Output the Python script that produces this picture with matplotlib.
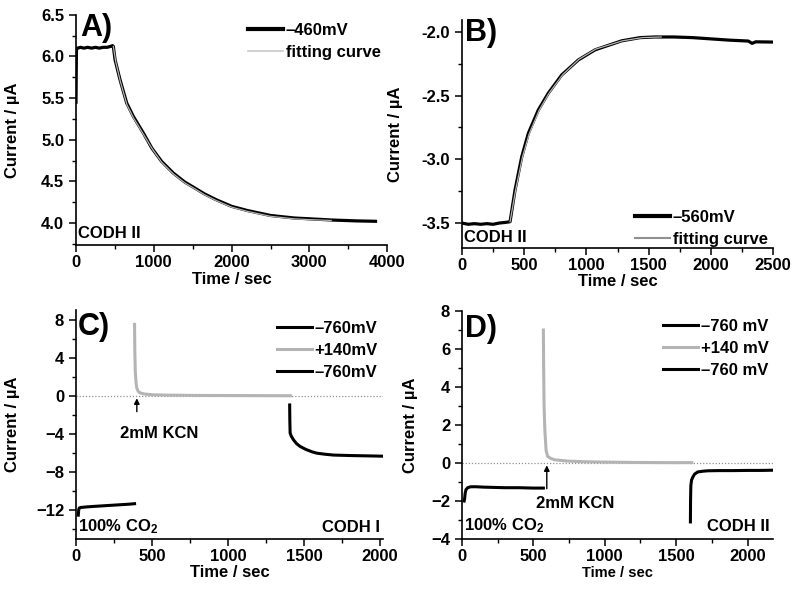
import matplotlib
matplotlib.use("Agg")
import matplotlib.pyplot as plt
from matplotlib.ticker import MultipleLocator, FormatStrFormatter

plt.rcParams['font.family'] = ['Liberation Sans', 'DejaVu Sans']
plt.rcParams['font.weight'] = 'bold'
plt.rcParams['axes.labelweight'] = 'bold'
plt.rcParams['mathtext.fontset'] = 'custom'
plt.rcParams['mathtext.rm'] = 'Liberation Sans:bold'
plt.rcParams['mathtext.it'] = 'Liberation Sans:bold'
plt.rcParams['mathtext.bf'] = 'Liberation Sans:bold'

### data
# A) CODH II, -460 mV
t_a = [0, 3, 6, 10, 20, 60, 100, 150, 200, 250, 300, 350, 400, 440, 470, 480,
       502, 566, 652, 737, 866, 974, 1100, 1250, 1400, 1509, 1650, 1800, 2000,
       2200, 2500, 2800, 3000, 3300, 3600, 3850]
v_a = [5.45, 5.8, 6.08, 6.1, 6.1, 6.11, 6.1, 6.11, 6.1, 6.11, 6.1, 6.11, 6.11,
       6.12, 6.13, 6.12, 5.96, 5.72, 5.44, 5.28, 5.08, 4.90, 4.74, 4.60, 4.49,
       4.43, 4.35, 4.28, 4.20, 4.15, 4.09, 4.06, 4.05, 4.035, 4.025, 4.02]
fit_t_a = [480, 510, 570, 655, 740, 870, 980, 1100, 1250, 1400, 1510, 1650,
           1800, 2000, 2200, 2500, 2800, 3000, 3280]
fit_v_a = [6.12, 5.94, 5.70, 5.42, 5.26, 5.06, 4.89, 4.73, 4.59, 4.48, 4.42,
           4.34, 4.27, 4.19, 4.14, 4.08, 4.05, 4.04, 4.03]

# B) CODH II, -560 mV
t_b = [0, 50, 100, 150, 200, 250, 300, 350, 386, 426, 480, 533, 613, 694, 801,
       935, 1069, 1284, 1431, 1550, 1700, 1850, 2000, 2150, 2300, 2330, 2360,
       2500]
v_b = [-3.50, -3.51, -3.505, -3.51, -3.505, -3.51, -3.50, -3.495, -3.49,
       -3.241, -2.98, -2.796, -2.613, -2.48, -2.338, -2.22, -2.141, -2.07,
       -2.045, -2.04, -2.04, -2.045, -2.055, -2.065, -2.072, -2.09, -2.078,
       -2.08]
fit_t_b = [386, 430, 485, 540, 620, 700, 810, 940, 1075, 1290, 1450, 1600]
fit_v_b = [-3.49, -3.245, -2.985, -2.80, -2.615, -2.48, -2.335, -2.215,
           -2.135, -2.07, -2.045, -2.04]

# C) CODH I, KCN inhibition
c1_t = [15, 18, 22, 30, 60, 100, 150, 200, 250, 300, 350, 385]
c1_v = [-12.5, -11.9, -11.75, -11.7, -11.65, -11.6, -11.55, -11.5, -11.45,
        -11.4, -11.35, -11.3]
c2_t = [385, 387, 390, 395, 400, 410, 425, 450, 500, 600, 800, 1000, 1200, 1410]
c2_v = [7.5, 4.5, 2.5, 1.4, 0.8, 0.45, 0.3, 0.2, 0.12, 0.08, 0.05, 0.04, 0.03,
        0.02]
c3_t = [1405, 1406, 1408, 1415, 1430, 1450, 1474, 1510, 1550, 1583, 1640,
        1693, 1800, 1900, 2022]
c3_v = [-0.95, -2.5, -3.9, -4.2, -4.6, -5.0, -5.3, -5.6, -5.85, -6.0, -6.12,
        -6.2, -6.25, -6.28, -6.32]

# D) CODH II, KCN inhibition
d1_t = [15, 18, 22, 28, 40, 60, 100, 150, 200, 300, 400, 500, 570]
d1_v = [-2.0, -1.9, -1.6, -1.4, -1.3, -1.25, -1.25, -1.27, -1.28, -1.3, -1.3,
        -1.32, -1.32]
d2_t = [570, 572, 575, 580, 589, 600, 620, 648, 700, 741, 850, 975, 1200,
        1400, 1610]
d2_v = [7.0, 5.0, 3.0, 1.8, 0.66, 0.35, 0.25, 0.17, 0.13, 0.1, 0.07, 0.05,
        0.03, 0.02, 0.02]
d3_t = [1600, 1601, 1603, 1608, 1617, 1630, 1652, 1690, 1722, 1800, 1900,
        2000, 2100, 2171]
d3_v = [-3.1, -2.0, -1.2, -0.9, -0.74, -0.58, -0.47, -0.43, -0.41, -0.4,
        -0.4, -0.39, -0.39, -0.38]

GRAY = '#b4b4b4'
FS = 12


def style(ax, xlim, ylim, xmaj, ymaj, lab_x, lab_y, xlab_fs=FS):
    ax.set_xlim(*xlim)
    ax.set_ylim(*ylim)
    for s in ['top', 'right']:
        ax.spines[s].set_visible(False)
    for s in ['left', 'bottom']:
        ax.spines[s].set_linewidth(1.2)
    ax.xaxis.set_major_locator(MultipleLocator(xmaj))
    ax.xaxis.set_minor_locator(MultipleLocator(xmaj / 2))
    ax.yaxis.set_major_locator(MultipleLocator(ymaj))
    ax.yaxis.set_minor_locator(MultipleLocator(ymaj / 2))
    ax.tick_params(which='major', direction='out', length=5, width=1.1,
                   labelsize=FS)
    ax.tick_params(axis='x', which='major', pad=2.5)
    ax.tick_params(which='minor', direction='out', length=3, width=1)
    ax.set_xlabel('Time / sec', fontsize=xlab_fs, va='top')
    ax.set_ylabel('Current / \u00b5A', fontsize=FS)
    ax.xaxis.set_label_coords(0.5, lab_x)
    ax.yaxis.set_label_coords(lab_y, 0.5)


def legend(ax, x, y):
    return ax.legend(loc='upper left', bbox_to_anchor=(x, y), frameon=False,
                     fontsize=FS, handlelength=2.1, handletextpad=0.15,
                     labelspacing=0.42, borderpad=0, borderaxespad=0)


fig = plt.figure(figsize=(8, 5.94), dpi=100)

# A
ax = fig.add_axes([0.095, 0.5875, 0.389, 0.3875])
ax.plot(t_a, v_a, color='black', lw=2.3, label='\u2013460mV')
ax.plot(fit_t_a, fit_v_a, color=GRAY, lw=0.9, label='fitting curve')
style(ax, (0, 4000), (3.735, 6.5), 1000, 0.5, -0.117, -0.18)
ax.yaxis.set_major_formatter(FormatStrFormatter('%.1f'))
ax.text(0.013, 0.943, 'A)', transform=ax.transAxes, fontsize=22,
        ha='left', va='center')
ax.text(0.005, 0.052, 'CODH II', transform=ax.transAxes, fontsize=FS,
        ha='left', va='center')
leg = legend(ax, 0.553, 0.965)
leg.get_lines()[0].set_linewidth(3)
leg.get_lines()[1].set_color('#c8c8c8')
leg.get_lines()[1].set_linewidth(1.2)

# B
ax = fig.add_axes([0.5775, 0.5825, 0.389, 0.384])
ax.plot(t_b, v_b, color='black', lw=2.3, label='\u2013560mV')
ax.plot(fit_t_b, fit_v_b, color=GRAY, lw=0.9, label='fitting curve')
style(ax, (0, 2500), (-3.696, -1.906), 500, 0.5, -0.113, -0.19)
ax.yaxis.set_major_formatter(FormatStrFormatter('%.1f'))
ax.text(0.01, 0.943, 'B)', transform=ax.transAxes, fontsize=22,
        ha='left', va='center')
ax.text(0.005, 0.044, 'CODH II', transform=ax.transAxes, fontsize=FS,
        ha='left', va='center')
leg = legend(ax, 0.556, 0.168)
leg.get_lines()[0].set_linewidth(3)
leg.get_lines()[1].set_color('#909090')
leg.get_lines()[1].set_linewidth(1.5)

# C
ax = fig.add_axes([0.095, 0.0926, 0.384, 0.3854])
ax.axhline(0, color='#909090', lw=0.9, ls=(0, (1, 1.5)))
ax.plot(c1_t, c1_v, color='black', lw=2.2, label='\u2013760mV')
ax.plot(c2_t, c2_v, color=GRAY, lw=2.2, label='+140mV')
ax.plot(c3_t, c3_v, color='black', lw=2.2, label='\u2013760mV')
style(ax, (0, 2020), (-15, 9), 500, 4, -0.115, -0.182)
ax.text(0.007, 0.926, 'C)', transform=ax.transAxes, fontsize=22,
        ha='left', va='center')
ax.text(0.005, 0.052, '100% CO$_2$', transform=ax.transAxes, fontsize=FS,
        ha='left', va='center')
ax.text(0.99, 0.052, 'CODH I', transform=ax.transAxes, fontsize=FS,
        ha='right', va='center')
ax.annotate('', xy=(400, -0.25), xytext=(400, -1.65),
            arrowprops=dict(arrowstyle='-|>', color='black', lw=1,
                            mutation_scale=8, shrinkA=0, shrinkB=0))
ax.text(545, -3.9, '2mM KCN', fontsize=FS, ha='center', va='center')
legend(ax, 0.655, 0.952)

# D
ax = fig.add_axes([0.5775, 0.0926, 0.389, 0.3838])
ax.axhline(0, color='#909090', lw=0.9, ls=(0, (1, 1.5)))
ax.plot(d1_t, d1_v, color='black', lw=2.2, label='\u2013760 mV')
ax.plot(d2_t, d2_v, color=GRAY, lw=2.2, label='+140 mV')
ax.plot(d3_t, d3_v, color='black', lw=2.2, label='\u2013760 mV')
style(ax, (0, 2180), (-4, 8), 500, 2, -0.12, -0.141, xlab_fs=10.5)
ax.text(0.01, 0.921, 'D)', transform=ax.transAxes, fontsize=22,
        ha='left', va='center')
ax.text(0.005, 0.057, '100% CO$_2$', transform=ax.transAxes, fontsize=FS,
        ha='left', va='center')
ax.text(0.99, 0.057, 'CODH II', transform=ax.transAxes, fontsize=FS,
        ha='right', va='center')
ax.annotate('', xy=(594, -0.12), xytext=(594, -1.35),
            arrowprops=dict(arrowstyle='-|>', color='black', lw=1,
                            mutation_scale=8, shrinkA=0, shrinkB=0))
ax.text(793, -2.13, '2mM KCN', fontsize=FS, ha='center', va='center')
legend(ax, 0.646, 0.965)

fig.savefig('out.png', dpi=100)
